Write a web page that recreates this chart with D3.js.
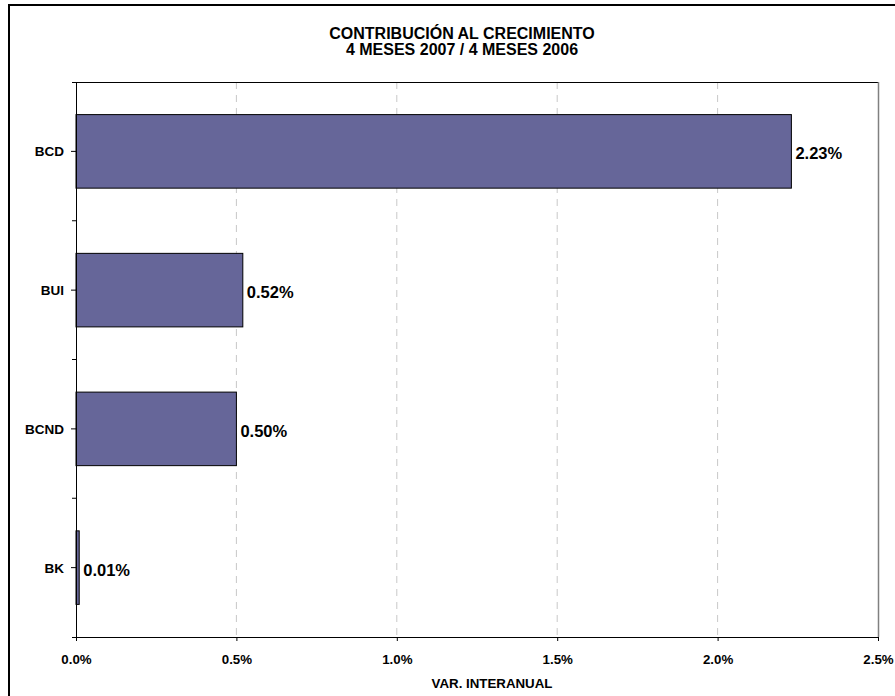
<!DOCTYPE html>
<html>
<head>
<meta charset="utf-8">
<script src="https://cdn.jsdelivr.net/npm/d3@7"></script>
<style>
  body { margin: 0; background: #fff; }
  text { font-family: "Liberation Sans", Arial, sans-serif; font-weight: bold; fill: #000; }
</style>
</head>
<body>
<svg id="chart" width="895" height="696"></svg>
<script>
var categories = ["BCD", "BUI", "BCND", "BK"];
var values = [2.23, 0.52, 0.50, 0.01];
var valueLabels = ["2.23%", "0.52%", "0.50%", "0.01%"];
var xTicks = [0, 0.5, 1.0, 1.5, 2.0, 2.5];
var titleLines = ["CONTRIBUCIÓN AL CRECIMIENTO", "4 MESES 2007 / 4 MESES 2006"];
var xTitle = "VAR. INTERANUAL";

function drawChart() {
    var width = 895,
        height = 696,
        margins = { top: 82, right: 17, bottom: 59, left: 76 };

    var graph = d3.select("#chart");

    // outer frame, right and bottom edges fall outside the picture
    graph.append("rect")
        .attr("x", 9).attr("y", 5)
        .attr("width", width + 20).attr("height", height + 20)
        .attr("fill", "none")
        .attr("stroke", "#000")
        .attr("stroke-width", 2);

    var xRange = d3.scaleLinear()
        .domain([0, 2.5])
        .range([margins.left, width - margins.right]);

    var yBand = d3.scaleBand()
        .domain(categories)
        .range([margins.top, height - margins.bottom])
        .paddingInner(0.47)
        .paddingOuter(0.235);

    var yCat = d3.scaleBand()
        .domain(categories)
        .range([margins.top, height - margins.bottom]);

    var plotTop = margins.top,
        plotBottom = height - margins.bottom;

    // dashed gridlines
    graph.append("g")
        .selectAll("line")
        .data(xTicks.filter(function (d) { return d > 0 && d < 2.5; }))
        .join("line")
        .attr("x1", function (d) { return xRange(d); })
        .attr("x2", function (d) { return xRange(d); })
        .attr("y1", plotTop)
        .attr("y2", plotBottom)
        .attr("stroke", "#c8c8c8")
        .attr("stroke-dasharray", "7,6");

    // plot border: top black, right gray
    graph.append("line")
        .attr("x1", xRange(0) - 4).attr("x2", xRange(2.5))
        .attr("y1", plotTop + 0.5).attr("y2", plotTop + 0.5)
        .attr("stroke", "#000");
    graph.append("line")
        .attr("x1", xRange(2.5) + 0.5).attr("x2", xRange(2.5) + 0.5)
        .attr("y1", plotTop).attr("y2", plotBottom)
        .attr("stroke", "#808080")
        .attr("stroke-width", 1.5);

    // bars
    graph.append("g")
        .selectAll("rect")
        .data(values)
        .join("rect")
        .attr("x", xRange(0))
        .attr("y", function (d, i) { return yBand(categories[i]); })
        .attr("width", function (d) { return xRange(d) - xRange(0); })
        .attr("height", yBand.bandwidth())
        .attr("fill", "#666699")
        .attr("stroke", "#000")
        .attr("stroke-width", 1);

    // x axis
    var xAxis = d3.axisBottom(xRange)
        .tickValues(xTicks)
        .tickSize(4)
        .tickFormat(function (d) { return d.toFixed(1) + "%"; });

    var gx = graph.append("g")
        .attr("transform", "translate(0," + plotBottom + ")")
        .call(xAxis);
    gx.select(".domain").attr("stroke", "#000").attr("d", "M" + (xRange(0) - 4) + ",0.5H" + xRange(2.5));
    gx.selectAll(".tick line").attr("stroke", "#000");
    gx.selectAll(".tick text")
        .attr("dy", "0")
        .attr("y", 27)
        .style("font-size", "13.3px");

    // y axis: labels with ticks at centres, extra ticks at band edges
    var yAxis = d3.axisLeft(yCat).tickSize(5).tickPadding(6);
    var gy = graph.append("g")
        .attr("transform", "translate(" + xRange(0) + ",0)")
        .call(yAxis);
    gy.select(".domain").attr("stroke", "#000").attr("d", "M0.5," + plotTop + "V" + plotBottom);
    gy.selectAll(".tick line").attr("stroke", "#000");
    gy.selectAll(".tick text")
        .style("font-size", "13.5px")
        .attr("x", -12)
        .attr("dy", "0.36em");

    var edges = categories.slice(1).map(function (c) { return yCat(c); });
    gy.selectAll(".edge")
        .data(edges)
        .join("line")
        .attr("class", "edge")
        .attr("x1", -4).attr("x2", 0)
        .attr("y1", function (d) { return d; })
        .attr("y2", function (d) { return d; })
        .attr("stroke", "#000");

    // value labels
    graph.append("g")
        .selectAll("text")
        .data(values)
        .join("text")
        .attr("x", function (d) { return xRange(d) + 4; })
        .attr("y", function (d, i) { return yBand(categories[i]) + yBand.bandwidth() / 2 + 2; })
        .attr("dy", "0.36em")
        .style("font-size", "16.5px")
        .text(function (d, i) { return valueLabels[i]; });

    // title
    graph.append("g")
        .selectAll("text")
        .data(titleLines)
        .join("text")
        .attr("x", 462)
        .attr("y", function (d, i) { return 39 + i * 15.5; })
        .attr("text-anchor", "middle")
        .style("font-size", "16px")
        .text(function (d) { return d; });

    graph.append("text")
        .attr("x", (xRange(0) + xRange(2.5)) / 2 + 15)
        .attr("y", 688)
        .attr("text-anchor", "middle")
        .style("font-size", "13.3px")
        .text(xTitle);
}

drawChart();
</script>
</body>
</html>
